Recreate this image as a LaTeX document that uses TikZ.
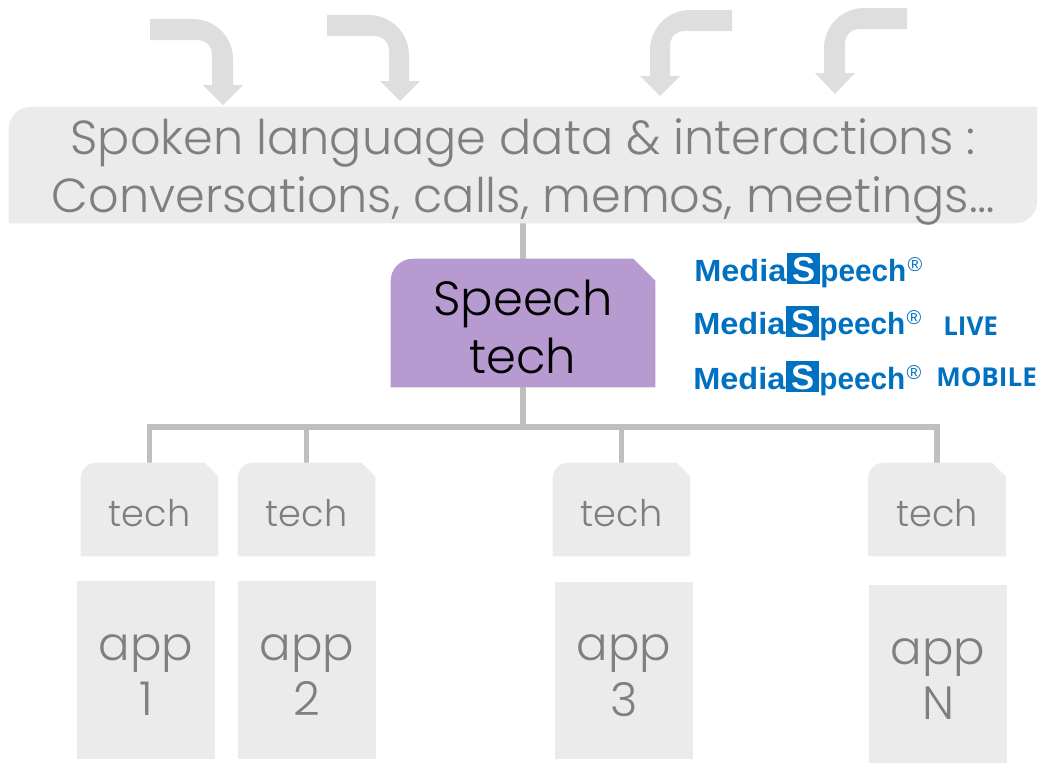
\documentclass[tikz,border=0pt]{standalone}
\usepackage{fontspec}
\setmainfont{Poppins Light}
\newfontfamily\logofont{Liberation Sans}
\newfontfamily\tagfont{Open Sans}
\usetikzlibrary{backgrounds}
\usetikzlibrary{calc}
\definecolor{boxgray}{RGB}{235,235,235}
\definecolor{arrowgray}{RGB}{222,222,222}
\definecolor{linegray}{RGB}{191,191,191}
\definecolor{textgray}{RGB}{127,127,127}
\definecolor{speechpurple}{RGB}{183,154,208}
\definecolor{logoblue}{RGB}{0,112,192}
\newcommand{\mediaspeech}{{\logofont\fontsize{23}{23}\selectfont\bfseries\color{logoblue}\scalebox{1.06}[1]{Media}\hspace{0.5pt}\setlength{\fboxsep}{0pt}\raisebox{-2.25pt}{\colorbox{logoblue}{\makebox[25pt]{\rule{0pt}{23pt}\raisebox{2pt}{\textcolor{white}{\fontsize{26}{26}\selectfont S}}}}}\scalebox{0.97}[1]{peech}\hspace{1pt}\raisebox{7pt}{\mdseries\fontsize{15}{15}\selectfont\textregistered}}}
\newcommand{\lift}[1]{\rule{0pt}{#1}}
\tikzset{
  bigtext/.style={font=\fontsize{35.8}{43.5}\selectfont,text=textgray,align=center,inner xsep=0pt,inner ysep=-4pt},
  techbox/.style={minimum width=103pt,minimum height=70pt,inner sep=0pt,text=textgray,font=\fontsize{27.5}{32}\selectfont,execute at begin node={\rule{0pt}{26pt}}},
  appbox/.style={fill=boxgray,minimum width=103.5pt,minimum height=133pt,inner sep=0pt,text=textgray,align=center,font=\fontsize{35}{41.5}\selectfont},
  tagtext/.style={text=logoblue,font=\tagfont\bfseries\fontsize{19.5}{24}\selectfont,inner sep=0pt,anchor=west},
  logotext/.style={inner sep=0pt,anchor=base west},
  conn/.style={draw=linegray,line width=4pt},
  bentarrow/.style={fill=arrowgray}
}
\begin{document}
\begin{tikzpicture}[x=0.75pt,y=0.75pt,yscale=-1,xscale=1]
\useasboundingbox (0,0) rectangle (1050,764);

%Bent arrows
\fill [bentarrow] (150,19) -- (193,19) .. controls (215,19) and (233,37) .. (233,59) -- (233,85) -- (243,85) -- (223,105) -- (203,85) -- (212,85) -- (212,55) .. controls (212,46) and (206,40) .. (197,40) -- (150,40) -- cycle ;
\fill [bentarrow] (327,15) -- (369,15) .. controls (391,15) and (409,33) .. (409,55) -- (409,81) -- (420,81) -- (400,101) -- (380,81) -- (389,81) -- (389,51) .. controls (389,42) and (383,36) .. (374,36) -- (327,36) -- cycle ;
\fill [bentarrow] (732,10) -- (690,10) .. controls (668,10) and (650,28) .. (650,50) -- (650,76) -- (640,76) -- (660,96) -- (680,76) -- (670,76) -- (670,46) .. controls (670,37) and (676,31) .. (685,31) -- (732,31) -- cycle ;
\fill [bentarrow] (907,8) -- (864,8) .. controls (842,8) and (824,26) .. (824,48) -- (824,73) -- (815,73) -- (835,94) -- (855,73) -- (845,73) -- (845,44) .. controls (845,35) and (851,29) .. (860,29) -- (907,29) -- cycle ;

%Text Nodes
\node (data) [bigtext,minimum width=771pt,minimum height=87pt] at (523,165) {\lift{38pt}Spoken language data \& interactions :\\Conversations, calls, memos, meetings\ldots};
\node (speech) [minimum width=198pt,minimum height=96pt,inner sep=0pt,align=center,text=black,font=\fontsize{36}{43}\selectfont] at (523,323) {\lift{32.5pt}Speech\\tech};

\node (tech1) [techbox] at (149.5,509.5) {tech};
\node (tech2) [techbox] at (306.5,509.5) {tech};
\node (tech3) [techbox] at (621.5,509.5) {tech};
\node (techN) [techbox] at (937,509.5) {tech};

\node (app1) [appbox] at (146,670) {\lift{27pt}app\\1};
\node (app2) [appbox] at (307,670) {\lift{27pt}app\\2};
\node (app3) [appbox] at (624,670.5) {\lift{27pt}app\\3};
\node (appN) [appbox] at (938,674) {\lift{27pt}app\\N};

\node (logoA) [logotext] at (694,281) {\mediaspeech};
\node (logoB) [logotext] at (693,334) {\mediaspeech};
\node (logoC) [logotext] at (693,389) {\mediaspeech};
\node (live) [tagtext] at (943,326) {LIVE};
\node (mobile) [tagtext] at (936,377) {MOBILE};

\coordinate (bus) at (523,427);

%Connectors and box fills
\begin{scope}[on background layer]
\draw [conn] (data.south) -- (speech.north);
\draw [conn] (speech.south) -- (bus);
\draw [conn] (bus) -| (tech1.north);
\draw [conn] (bus) -| (tech2.north);
\draw [conn] (bus) -| (tech3.north);
\draw [conn] (bus) -| (techN.north);
\fill [boxgray] (data.south west) -- ($(data.north west)+(0,22)$) .. controls ($(data.north west)+(0,10)$) and ($(data.north west)+(10,0)$) .. ($(data.north west)+(22,0)$) -- (data.north east) -- ($(data.south east)+(0,-22)$) .. controls ($(data.south east)+(0,-10)$) and ($(data.south east)+(-10,0)$) .. ($(data.south east)+(-22,0)$) -- cycle ;
\fill [speechpurple] (speech.south west) -- ($(speech.north west)+(0,22)$) .. controls ($(speech.north west)+(0,10)$) and ($(speech.north west)+(10,0)$) .. ($(speech.north west)+(22,0)$) -- ($(speech.north east)+(-22,0)$) -- ($(speech.north east)+(0,22)$) -- (speech.south east) -- cycle ;
\foreach \n in {tech1,tech2,tech3,techN}
  \fill [boxgray] (\n.south west) -- ($(\n.north west)+(0,16)$) .. controls ($(\n.north west)+(0,7)$) and ($(\n.north west)+(7,0)$) .. ($(\n.north west)+(16,0)$) -- ($(\n.north east)+(-14,0)$) -- ($(\n.north east)+(0,14)$) -- (\n.south east) -- cycle ;
\end{scope}
\end{tikzpicture}
\end{document}
